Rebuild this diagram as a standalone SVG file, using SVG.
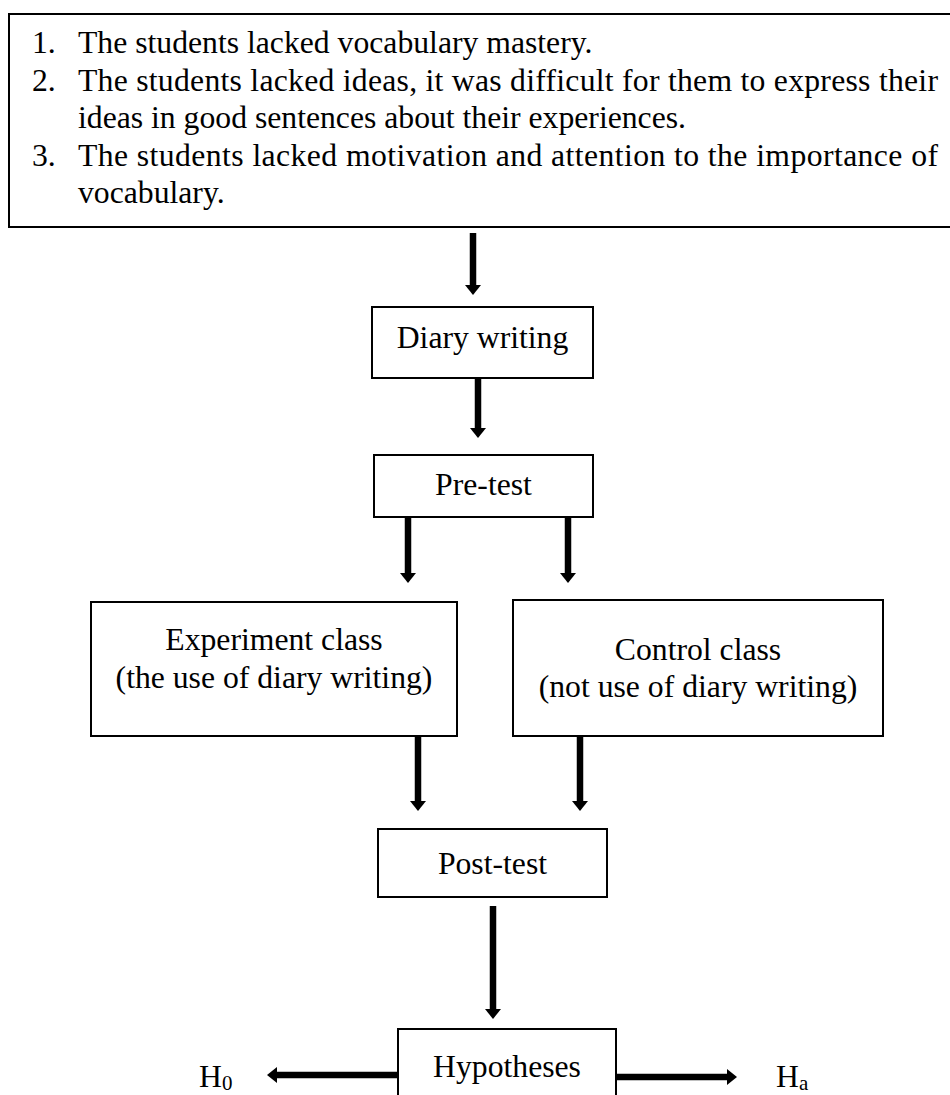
<svg xmlns="http://www.w3.org/2000/svg" width="950" height="1095" viewBox="0 0 950 1095">
<style>
.box{fill:#fff;stroke:#000;stroke-width:2}
.t{font-family:"Liberation Serif","Times New Roman",serif;font-size:31.7px;fill:#000}
.c{text-anchor:middle}
.conn{stroke:#000;stroke-width:6.5;fill:none}
</style>
<defs>
<marker id="ah" viewBox="0 0 10 16" refX="0" refY="8" markerWidth="10" markerHeight="16" markerUnits="userSpaceOnUse" orient="auto">
<path d="M0,0 L10,8 L0,16 z" fill="#000"/>
</marker>
</defs>
<rect width="950" height="1095" fill="#fff"/>
<g id="problems">
<rect class="box" x="9" y="14" width="950" height="213"/>
<text class="t" x="32" y="53">1.</text>
<text class="t" x="78" y="53">The students lacked vocabulary mastery.</text>
<text class="t" x="32" y="91">2.</text>
<text class="t" x="78" y="91" textLength="860" lengthAdjust="spacing">The students lacked ideas, it was difficult for them to express their</text>
<text class="t" x="78" y="128">ideas in good sentences about their experiences.</text>
<text class="t" x="32" y="166">3.</text>
<text class="t" x="78" y="166" textLength="860" lengthAdjust="spacing">The students lacked motivation and attention to the importance of</text>
<text class="t" x="78" y="203">vocabulary.</text>
</g>
<g id="diary">
<rect class="box" x="372" y="307" width="221" height="71"/>
<text class="t c" x="482.5" y="348">Diary writing</text>
</g>
<g id="pretest">
<rect class="box" x="374" y="455" width="219" height="62"/>
<text class="t c" x="483.5" y="495">Pre-test</text>
</g>
<g id="experiment">
<rect class="box" x="91" y="602" width="366" height="134"/>
<text class="t c" x="274" y="650">Experiment class</text>
<text class="t c" x="274" y="688">(the use of diary writing)</text>
</g>
<g id="control">
<rect class="box" x="513" y="600" width="370" height="136"/>
<text class="t c" x="698" y="660">Control class</text>
<text class="t c" x="698" y="697">(not use of diary writing)</text>
</g>
<g id="posttest">
<rect class="box" x="378" y="829" width="229" height="68"/>
<text class="t c" x="492.5" y="874">Post-test</text>
</g>
<g id="hypotheses">
<rect class="box" x="398" y="1029" width="218" height="80"/>
<text class="t c" x="507" y="1077">Hypotheses</text>
</g>
<g id="h0">
<text class="t" x="199" y="1087">H<tspan font-size="21" dy="3">0</tspan></text>
</g>
<g id="ha">
<text class="t" x="776" y="1087">H<tspan font-size="21" dy="3">a</tspan></text>
</g>
<g id="connectors">
<line class="conn" x1="473" y1="233" x2="473" y2="285" marker-end="url(#ah)"/>
<line class="conn" x1="478" y1="378" x2="478" y2="428" marker-end="url(#ah)"/>
<line class="conn" x1="408" y1="517" x2="408" y2="573" marker-end="url(#ah)"/>
<line class="conn" x1="568" y1="517" x2="568" y2="573" marker-end="url(#ah)"/>
<line class="conn" x1="418" y1="736" x2="418" y2="801" marker-end="url(#ah)"/>
<line class="conn" x1="580" y1="736" x2="580" y2="801" marker-end="url(#ah)"/>
<line class="conn" x1="493" y1="906" x2="493" y2="1009" marker-end="url(#ah)"/>
<line class="conn" x1="398" y1="1075" x2="277" y2="1075" marker-end="url(#ah)"/>
<line class="conn" x1="616" y1="1077" x2="727" y2="1077" marker-end="url(#ah)"/>
</g>
</svg>
